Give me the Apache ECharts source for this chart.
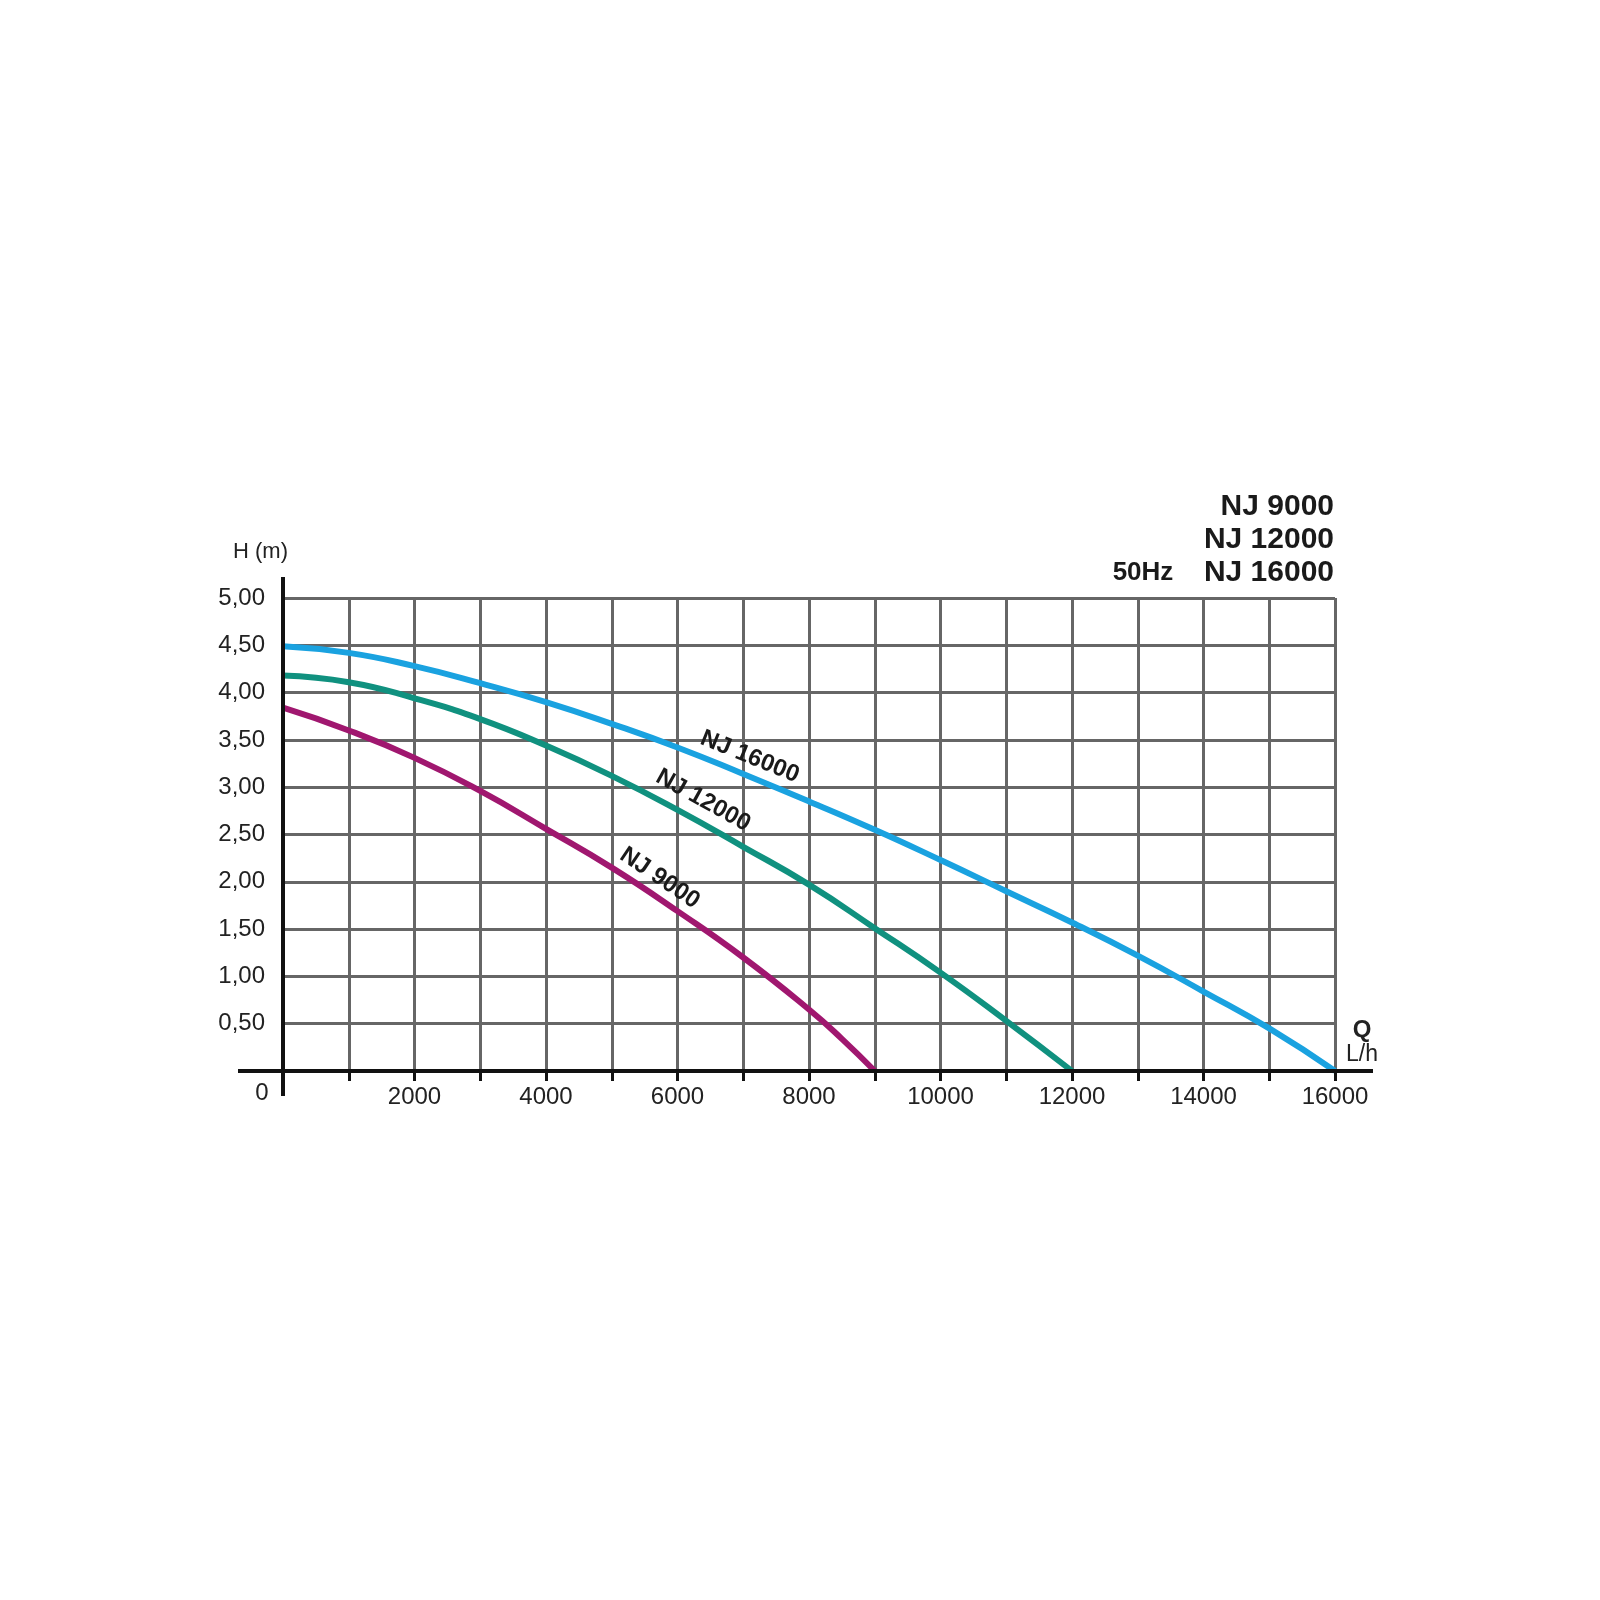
<!DOCTYPE html>
<html>
<head>
<meta charset="utf-8">
<script src="https://cdn.jsdelivr.net/npm/echarts@6/dist/echarts.min.js"></script>
<style>
html,body{margin:0;padding:0;background:#fff;}
#chart{width:1600px;height:1600px;}
</style>
</head>
<body>
<div id="chart"></div>
<script>
// Flow Q (L/h) sample points
const flow16000 = [0,1000,2000,3000,4000,5000,6000,7000,8000,9000,10000,11000,12000,13000,14000,15000,16000];
const head16000 = [4.49,4.42,4.28,4.10,3.90,3.67,3.42,3.14,2.85,2.55,2.23,1.90,1.57,1.22,0.84,0.45,0];
const flow12000 = [0,1000,2000,3000,4000,5000,6000,7000,8000,9000,10000,11000,12000];
const head12000 = [4.18,4.11,3.94,3.72,3.44,3.12,2.76,2.37,1.97,1.51,1.04,0.53,0];
const flow9000 = [0,1000,2000,3000,4000,5000,6000,7000,8000,8500,9000];
const head9000 = [3.84,3.60,3.31,2.96,2.56,2.15,1.69,1.20,0.65,0.34,0];
const seriesNames = ['NJ 16000','NJ 12000','NJ 9000'];
const titleLines = ['NJ 9000','NJ 12000','NJ 16000'];
const freqLabel = '50Hz';
const yAxisName = 'H (m)';
const xAxisName = ['Q','L/h'];

const colors = ['#1AA2E0','#10917F','#A0176F'];
const pair = (xs, ys) => xs.map((x,i)=>[x, ys[i]]);

const chart = echarts.init(document.getElementById('chart'), null, {renderer:'canvas'});
const FONT = "'Liberation Sans', Arial, sans-serif";
const NARROW = "'Liberation Sans Narrow', 'Liberation Sans', Arial, sans-serif";

const lineSeries = (name, data, color) => ({
  name, type:'line', data, smooth:true, showSymbol:false,
  lineStyle:{color, width:6}, z:5
});

chart.setOption({
  animation:false,
  backgroundColor:'#ffffff',
  grid:{left:283, top:598, width:1052, height:473, containLabel:false},
  xAxis:{
    type:'value', min:0, max:16000, interval:1000,
    axisLine:{show:false},
    axisTick:{show:true, inside:false, length:10, lineStyle:{color:'#111', width:3}},
    splitLine:{show:true, lineStyle:{color:'#666', width:3}},
    axisLabel:{
      interval:0, margin:14, color:'#222', fontSize:24, fontFamily:NARROW,
      showMinLabel:true, showMaxLabel:true,
      formatter:v => (v>0 && v%2000===0) ? String(v) : ''
    }
  },
  yAxis:{
    type:'value', min:0, max:5, interval:0.5,
    axisLine:{show:false},
    axisTick:{show:false},
    splitLine:{show:true, lineStyle:{color:'#666', width:3}},
    axisLabel:{
      margin:18, color:'#222', fontSize:24, fontFamily:NARROW,
      formatter:v => v===0 ? '' : v.toFixed(2).replace('.', ',')
    }
  },
  series:[
    lineSeries(seriesNames[0], pair(flow16000, head16000), colors[0]),
    lineSeries(seriesNames[1], pair(flow12000, head12000), colors[1]),
    lineSeries(seriesNames[2], pair(flow9000, head9000), colors[2])
  ]
});

// Annotation anchors in data space (flow, head) and rotation (deg)
const curveLabelAnchors = [[7100,3.32,-22],[6390,2.86,-29],[5730,2.04,-34]];

const px = (x,y) => chart.convertToPixel({gridIndex:0}, [x,y]);
const o = px(0,0), xe = px(16000,0), yt = px(0,5);

const g = [];
// axis lines (extend beyond the plotting area as in the reference)
g.push({type:'line', shape:{x1:o[0]-45, y1:o[1], x2:xe[0]+38, y2:o[1]}, style:{stroke:'#111', lineWidth:4}, z:20});
g.push({type:'line', shape:{x1:o[0], y1:yt[1]-21, x2:o[0], y2:o[1]+25}, style:{stroke:'#111', lineWidth:4}, z:20});
// "0" label
g.push({type:'text', x:o[0]-21, y:o[1]+22, style:{text:'0', font:"24px "+NARROW, fill:'#222', align:'center', verticalAlign:'middle'}, z:20});
// H (m)
g.push({type:'text', x:o[0]-50, y:yt[1]-46, style:{text:yAxisName, font:"22px "+FONT, fill:'#222', align:'left', verticalAlign:'middle'}, z:20});
// Q / L/h
g.push({type:'text', x:xe[0]+27, y:o[1]-41, style:{text:xAxisName[0], font:"bold 24px "+NARROW, fill:'#222', align:'center', verticalAlign:'middle'}, z:20});
g.push({type:'text', x:xe[0]+27, y:o[1]-16, style:{text:xAxisName[1], font:"23px "+NARROW, fill:'#222', align:'center', verticalAlign:'middle'}, z:20});
// title block
titleLines.forEach((t,i)=>{
  g.push({type:'text', x:xe[0]-1, y:yt[1]-91+i*33, style:{text:t, font:"bold 30px "+FONT, fill:'#1a1a1a', align:'right', verticalAlign:'middle'}, z:20});
});
g.push({type:'text', x:xe[0]-192, y:yt[1]-25, style:{text:freqLabel, font:"bold 26px "+NARROW, fill:'#1a1a1a', align:'center', verticalAlign:'middle'}, z:20});
// curve labels
curveLabelAnchors.forEach((a,i)=>{
  const p = px(a[0], a[1]);
  g.push({type:'text', x:p[0], y:p[1], rotation:a[2]*Math.PI/180,
    style:{text:seriesNames[i], font:"bold 24px "+FONT, fill:'#1a1a1a', align:'center', verticalAlign:'middle'}, z:20});
});
chart.setOption({graphic:g});
</script>
</body>
</html>
